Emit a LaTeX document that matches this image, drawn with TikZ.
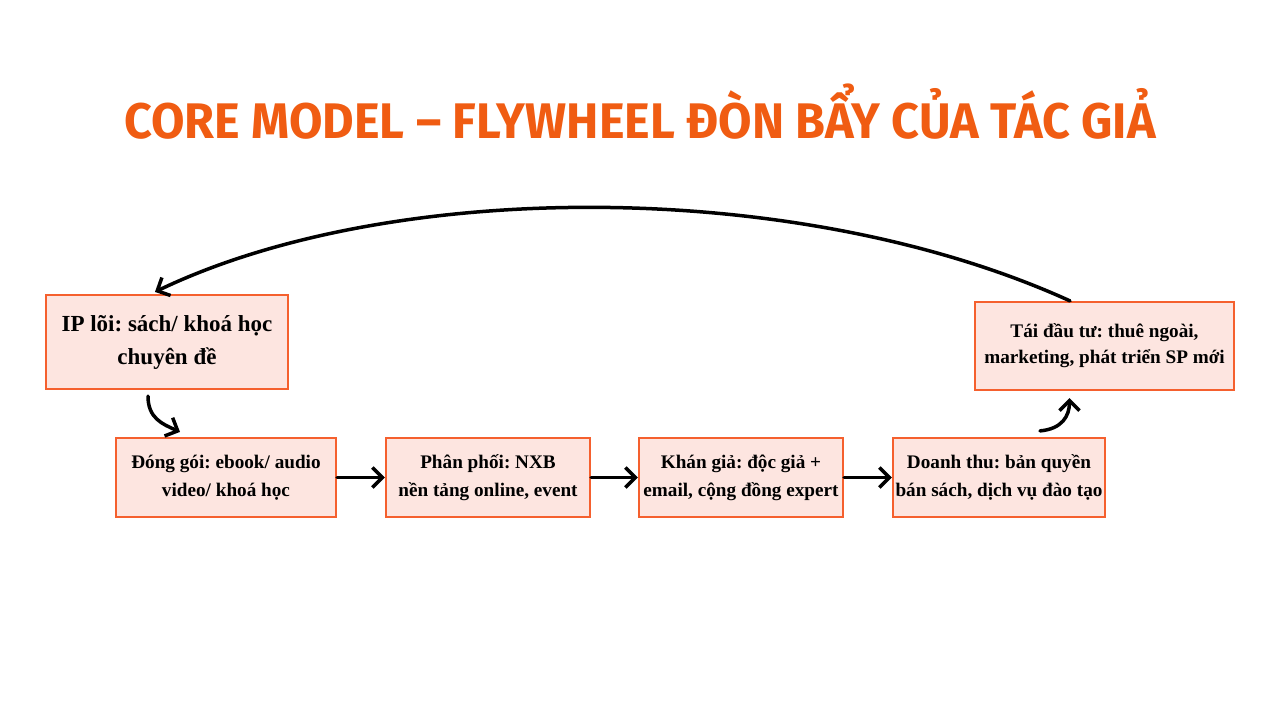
\documentclass[tikz,border=0pt]{standalone}
\usepackage{fontspec}
\setmainfont{Liberation Serif}
\newfontfamily\titlefont[FakeStretch=0.97]{Fira Sans}
\usepackage{tikz}
\usetikzlibrary{arrows.meta,calc}
\definecolor{flyorange}{RGB}{240,92,18}
\definecolor{boxedge}{RGB}{245,96,46}
\definecolor{boxfill}{RGB}{253,229,224}
\frenchspacing

\begin{document}
\begin{tikzpicture}[x=0.5pt,y=-0.5pt,
  stepbox/.style={draw=boxedge,fill=boxfill,line width=1.1pt,inner sep=0pt,align=center,
    minimum height=39.5pt,font=\bfseries\fontsize{9.6}{14}\selectfont},
  flow/.style={line width=1.75pt,line cap=round,-{Straight Barb[length=5pt,width=10pt]}}]
  \fill[white] (0,0) rectangle (1280,720);
  \useasboundingbox (0,0) rectangle (1280,720);
  \node[font=\titlefont\bfseries\fontsize{25}{28}\selectfont,text=flyorange,anchor=base] (title) at (640,138)
    {CORE MODEL – FLYWHEEL ĐÒN BẨY CỦA TÁC GIẢ};
  % the loop of boxes
  \node[stepbox,minimum width=121pt,minimum height=47pt,font=\bfseries\fontsize{11.5}{16.5}\selectfont]
    (ip) at (167,342) {IP lõi: sách/ khoá học\\chuyên đề};
  \node[stepbox,minimum width=110pt] (pack) at (226,477.5) {Đóng gói: ebook/ audio\\video/ khoá học};
  \node[stepbox,minimum width=102pt] (dist) at (488,477.5) {Phân phối: NXB\\nền tảng online, event};
  \node[stepbox,minimum width=102pt] (aud) at (741,477.5) {Khán giả: độc giả +\\email, cộng đồng expert};
  \node[stepbox,minimum width=106pt] (rev) at (999,477.5) {Doanh thu: bản quyền\\bán sách, dịch vụ đào tạo};
  \node[stepbox,minimum width=129.5pt,minimum height=44pt,font=\bfseries\fontsize{9.6}{13}\selectfont]
    (tai) at (1104.5,346) {Tái đầu tư: thuê ngoài,\\marketing, phát triển SP mới};
  \foreach \a/\b in {pack/dist,aud/rev,dist/aud}
    \draw[flow] (\a.east) -- (\b.west);
  \draw[flow] ($(ip.south)+(-19,6)$) .. controls +(0,22) and +(-18,-8) .. ($(pack.north)+(-46,-5)$);
  \draw[flow] ($(rev.north)+(41,-6)$) .. controls +(22,-2) and +(0,18) .. ($(tai.south)+(-35,7)$);
  \draw[flow] ($(tai.north)+(-34.5,0)$) .. controls (800,178) and (392,178) .. ($(ip.north)+(-12,-2)$);
\end{tikzpicture}
\end{document}
